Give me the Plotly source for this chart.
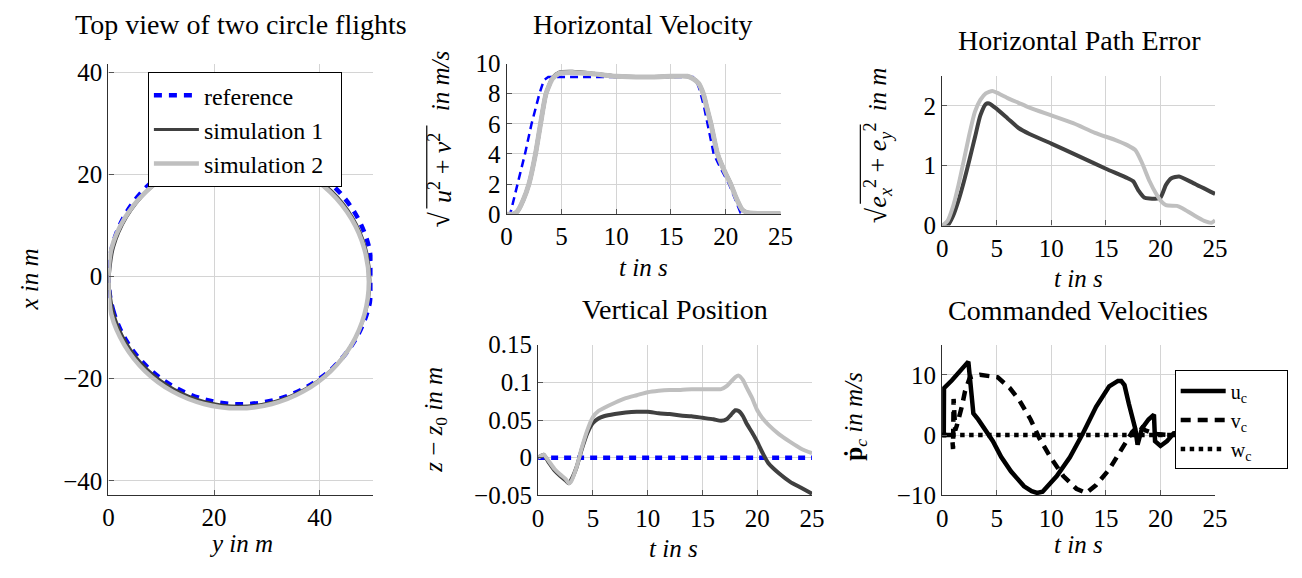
import plotly.graph_objects as go

W, H = 1302, 578
FONT = "Liberation Serif"
PAD = "\u00a0"

# ---------------- Top view of the two circle flights (y, x in m) ----------------
ref_y = [0.0, 0.85, 3.35, 7.32, 12.5, 18.53, 25.0, 31.47, 37.5, 42.68, 46.65, 49.15, 50.0,
         49.15, 46.65, 42.68, 37.5, 31.47, 25.0, 18.53, 12.5, 7.32, 3.35, 0.85, 0.0]
ref_x = [0.0, -6.47, -12.5, -17.68, -21.65, -24.15, -25.0, -24.15, -21.65, -17.68, -12.5, -6.47, 0.0,
         6.47, 12.5, 17.68, 21.65, 24.15, 25.0, 24.15, 21.65, 17.68, 12.5, 6.47, 0.0]
sim1_y = [0.0, 0.94, 3.41, 7.33, 12.45, 18.41, 24.8, 31.19, 37.15, 42.27, 46.19, 48.66, 49.5,
          48.66, 46.19, 42.27, 37.15, 31.19, 24.8, 18.41, 12.45, 7.33, 3.41, 0.94, 0.1]
sim1_x = [0.0, -7.09, -13.05, -18.17, -22.09, -24.56, -25.4, -24.56, -22.09, -18.17, -13.05, -7.09, -0.7,
          5.69, 11.65, 16.77, 20.69, 23.16, 24.0, 23.16, 20.69, 16.77, 11.65, 5.69, -0.7]
sim2_y = [0.0, 0.55, 3.02, 6.96, 12.1, 18.08, 24.5, 30.92, 36.9, 42.04, 45.98, 48.45, 49.3,
          48.45, 45.98, 42.04, 36.9, 30.92, 24.5, 18.08, 12.1, 6.96, 3.02, 0.55, 0.0]
sim2_x = [0.0, -7.42, -13.4, -18.54, -22.48, -24.95, -25.8, -24.95, -22.48, -18.54, -13.4, -7.42, -1.0,
          5.42, 11.4, 16.54, 20.48, 22.95, 23.8, 22.95, 20.48, 16.54, 11.4, 5.42, -1.0]

# ---------------- Horizontal velocity (m/s) ----------------
t_vref = [0, 0.33, 1.0, 1.68, 2.28, 3.0, 3.4, 3.8, 10, 17.0, 17.3, 17.6, 18.0, 18.35, 18.9,
          19.5, 20.3, 20.8, 21.35, 21.7, 25]
v_ref = [0, 0, 2.0, 4.0, 6.0, 8.0, 8.9, 9.1, 9.1, 9.1, 8.9, 8.3, 7.2, 6.0, 4.0,
         3.1, 2.0, 1.1, 0.1, 0.05, 0.05]
t_v = [0, 0.6, 1.0, 1.5, 2.04, 2.64, 3.1, 3.6, 4.2, 4.8, 6.0, 8.0, 10.0, 12.5, 15.0, 16.5, 17.0,
       17.5, 17.95, 18.3, 18.65, 19.25, 19.8, 20.45, 21.0, 21.5, 22.0, 25]
v_sim1 = [0, 0, 0.2, 0.9, 2.0, 4.0, 6.0, 8.0, 9.05, 9.4, 9.45, 9.32, 9.15, 9.1, 9.15, 9.15, 9.0,
          8.7, 8.0, 7.0, 6.0, 4.0, 3.0, 2.0, 1.0, 0.3, 0.1, 0.05]
v_sim2 = [0, 0, 0.2, 0.9, 2.0, 4.0, 6.0, 8.0, 9.0, 9.35, 9.4, 9.3, 9.15, 9.1, 9.15, 9.15, 9.0,
          8.7, 8.0, 7.0, 6.0, 4.0, 3.0, 2.0, 1.0, 0.3, 0.1, 0.05]

# ---------------- Horizontal path error (m) ----------------
t_e1 = [0, 0.5, 1, 1.5, 2, 2.5, 3, 3.5, 4, 4.3, 5, 6, 7, 8, 10, 12.5, 15, 17, 17.5, 18, 18.5,
        19.5, 20, 20.5, 21, 21.7, 23, 25]
e1 = [0, 0, 0.16, 0.42, 0.74, 1.1, 1.47, 1.84, 2.03, 2.04, 1.95, 1.79, 1.63, 1.53, 1.37, 1.16,
      0.95, 0.79, 0.74, 0.58, 0.47, 0.45, 0.47, 0.68, 0.79, 0.82, 0.71, 0.53]
t_e2 = [0, 0.5, 1, 1.5, 2, 2.5, 3, 3.5, 4, 4.6, 5, 6, 7, 8, 10, 12, 14, 16, 17, 17.7, 18.3, 19,
        19.6, 20, 20.5, 21.5, 22, 23, 24, 24.7, 25]
e2 = [0, 0.08, 0.32, 0.68, 1.1, 1.53, 1.9, 2.1, 2.21, 2.25, 2.22, 2.13, 2.05, 1.97, 1.84, 1.71,
      1.55, 1.42, 1.34, 1.26, 1.05, 0.74, 0.53, 0.42, 0.34, 0.33, 0.29, 0.18, 0.08, 0.05, 0.09]

# ---------------- Vertical position z - z0 (m) ----------------
t_z = [0, 0.5, 1, 1.5, 2, 2.5, 2.8, 3, 3.5, 4, 4.5, 5, 5.5, 6, 7, 8, 9, 10, 11, 12, 13, 14, 15,
       16, 16.7, 17.2, 17.6, 18, 18.3, 18.7, 19, 19.5, 20, 20.5, 21, 22, 23, 24, 25]
z_ref = [0.0] * len(t_z)
z1 = [0, 0.004, -0.007, -0.017, -0.024, -0.03, -0.034, -0.03, -0.013, 0.012, 0.033, 0.046,
      0.052, 0.055, 0.058, 0.06, 0.061, 0.061, 0.059, 0.058, 0.056, 0.055, 0.053, 0.051, 0.049,
      0.051, 0.057, 0.063, 0.062, 0.055, 0.046, 0.034, 0.021, 0.006, -0.007, -0.021, -0.032,
      -0.04, -0.048]
z2 = [0, 0.004, -0.005, -0.015, -0.022, -0.028, -0.034, -0.032, -0.013, 0.014, 0.037, 0.054,
      0.062, 0.066, 0.073, 0.079, 0.083, 0.087, 0.089, 0.09, 0.09, 0.091, 0.091, 0.091, 0.091,
      0.095, 0.101, 0.107, 0.109, 0.103, 0.094, 0.08, 0.063, 0.052, 0.044, 0.031, 0.021,
      0.012, 0.006]

# ---------------- Commanded velocities (m/s) ----------------
t_u = [0, 0.15, 0.17, 0.9, 2.4, 2.86, 3.3, 3.9, 4.65, 5.4, 6.3, 7.5, 8.2, 8.7, 9.2, 10.5, 11.7,
       12.9, 14.1, 15.3, 15.8, 16.1, 16.4, 16.7, 17.1, 17.4, 17.7, 17.9, 18.3, 18.9, 19.4, 19.5,
       20.0, 20.6, 21.2, 22.0, 25.0]
u_c = [0, 0, 7.8, 9.1, 12.2, 3.6, 2.6, 1.0, -1.0, -3.6, -6.0, -8.5, -9.3, -9.6, -9.4, -6.8,
       -3.7, 0.3, 4.7, 8.1, 8.7, 9.0, 9.0, 8.3, 5.2, 3.0, 1.0, -1.6, 1.1, 2.6, 3.4, -1.0, -1.8,
       -1.0, 0.3, 0.5, 0.2]
t_vc = [0, 0.9, 1.0, 1.05, 1.2, 1.35, 1.8, 2.1, 2.55, 3.46, 5.1, 6.2, 7.1, 8.1, 8.9, 9.9, 11.1,
        12.3, 13.2, 14.1, 15.3, 16.5, 17.4, 18.0, 18.6, 19.5, 21.0, 25.0]
v_c = [0, 0, -2.3, 6.0, 0.8, 1.6, 4.7, 7.3, 9.6, 10.0, 9.6, 7.8, 5.7, 2.6, -0.5, -3.6, -6.8,
       -8.9, -9.6, -8.3, -5.7, -2.1, 0.5, 1.6, 0.8, 0.2, 0.0, 0.0]
t_wc = [0, 25]
w_c = [0, 0]

# tick labels
top_xticks = [0, 20, 40]
top_yticks = [-40, -20, 0, 20, 40]
time_ticks = [0, 5, 10, 15, 20, 25]
vel_ticks = [0, 2, 4, 6, 8, 10]
err_ticks = [0, 1, 2]
z_ticks = [-0.05, 0, 0.05, 0.1, 0.15]
z_ticktext = ["\u22120.05", "0", "0.05", "0.1", "0.15"]
cmd_ticks = [-10, 0, 10]

BLUE = "#0000ff"
DARK = "#404040"
LIGHT = "#bfbfbf"


def fx(p):
    return p / W


def fy(p):
    return 1 - p / H


fig = go.Figure()

# panel 1: top view
fig.add_trace(go.Scatter(x=ref_y, y=ref_x, mode="lines", name="reference", xaxis="x", yaxis="y",
                         line=dict(color=BLUE, width=4.5, dash="8px,7px", shape="spline"),
                         legend="legend"))
fig.add_trace(go.Scatter(x=sim1_y, y=sim1_x, mode="lines", name="simulation 1" + PAD * 2,
                         xaxis="x", yaxis="y",
                         line=dict(color=DARK, width=3, shape="spline"), legend="legend"))
fig.add_trace(go.Scatter(x=sim2_y, y=sim2_x, mode="lines", name="simulation 2" + PAD * 2,
                         xaxis="x", yaxis="y",
                         line=dict(color=LIGHT, width=4.5, shape="spline"), legend="legend"))

# panel 2: horizontal velocity
fig.add_trace(go.Scatter(x=t_vref, y=v_ref, mode="lines", xaxis="x2", yaxis="y2", showlegend=False,
                         line=dict(color=BLUE, width=2.5, dash="8px,5px")))
fig.add_trace(go.Scatter(x=t_v, y=v_sim1, mode="lines", xaxis="x2", yaxis="y2", showlegend=False,
                         line=dict(color=DARK, width=4, shape="spline", smoothing=0.6)))
fig.add_trace(go.Scatter(x=t_v, y=v_sim2, mode="lines", xaxis="x2", yaxis="y2", showlegend=False,
                         line=dict(color=LIGHT, width=5, shape="spline", smoothing=0.6)))

# panel 3: horizontal path error
fig.add_trace(go.Scatter(x=t_e1, y=e1, mode="lines", xaxis="x3", yaxis="y3", showlegend=False,
                         line=dict(color=DARK, width=4, shape="spline", smoothing=0.6)))
fig.add_trace(go.Scatter(x=t_e2, y=e2, mode="lines", xaxis="x3", yaxis="y3", showlegend=False,
                         line=dict(color=LIGHT, width=4, shape="spline", smoothing=0.6)))

# panel 4: vertical position
fig.add_trace(go.Scatter(x=t_z, y=z_ref, mode="lines", xaxis="x4", yaxis="y4", showlegend=False,
                         line=dict(color=BLUE, width=4.5, dash="7px,6px")))
fig.add_trace(go.Scatter(x=t_z, y=z1, mode="lines", xaxis="x4", yaxis="y4", showlegend=False,
                         line=dict(color=DARK, width=4, shape="spline", smoothing=0.6)))
fig.add_trace(go.Scatter(x=t_z, y=z2, mode="lines", xaxis="x4", yaxis="y4", showlegend=False,
                         line=dict(color=LIGHT, width=4, shape="spline", smoothing=0.6)))

# panel 5: commanded velocities
fig.add_trace(go.Scatter(x=t_u, y=u_c, mode="lines", name="u<sub>c</sub>" + PAD * 6,
                         xaxis="x5", yaxis="y5",
                         line=dict(color="black", width=4.5), legend="legend2"))
fig.add_trace(go.Scatter(x=t_vc, y=v_c, mode="lines", name="v<sub>c</sub>" + PAD * 6,
                         xaxis="x5", yaxis="y5",
                         line=dict(color="black", width=4.5, dash="10px,7px"), legend="legend2"))
fig.add_trace(go.Scatter(x=t_wc, y=w_c, mode="lines", name="w<sub>c</sub>" + PAD * 6,
                         xaxis="x5", yaxis="y5",
                         line=dict(color="black", width=4.5, dash="4.5px,4.5px"), legend="legend2"))

tickfont = dict(family=FONT, size=25, color="black")
common = dict(showline=True, linecolor="#303030", linewidth=1.4, mirror=False,
              showgrid=True, gridcolor="#d4d4d4", gridwidth=1, zeroline=False,
              ticks="inside", ticklen=5, tickcolor="#555555", tickwidth=1, tickfont=tickfont,
              fixedrange=True)


def xax(l, r, rng, ticks, anchor, **kw):
    return dict(common, domain=[fx(l), fx(r)], range=rng, tickmode="array", tickvals=ticks,
                anchor=anchor, **kw)


def yax(t, b, rng, ticks, anchor, **kw):
    return dict(common, domain=[fy(b), fy(t)], range=rng, tickmode="array", tickvals=ticks,
                anchor=anchor, **kw)


layout = dict(
    width=W, height=H, margin=dict(l=0, r=0, t=0, b=0),
    paper_bgcolor="white", plot_bgcolor="white",
    font=dict(family=FONT, size=25, color="black"),
    xaxis=xax(104, 372, [0, 50], top_xticks, "y"),
    yaxis=yax(53.4, 505.7, [-42.8, 41.7], top_yticks, "x"),
    xaxis2=xax(508, 786, [0, 25], time_ticks, "y2"),
    yaxis2=yax(53, 211, [0, 10], vel_ticks, "x2"),
    xaxis3=xax(950, 1227, [0, 25], time_ticks, "y3"),
    yaxis3=yax(66, 223, [0, 2.5], err_ticks, "x3"),
    xaxis4=xax(540, 818, [0, 25], time_ticks, "y4"),
    yaxis4=yax(348, 506, [-0.05, 0.15], z_ticks, "x4", ticktext=z_ticktext),
    xaxis5=xax(950, 1227, [0, 25], time_ticks, "y5"),
    yaxis5=yax(348, 506, [-10, 15], cmd_ticks, "x5"),
    legend=dict(x=fx(144), y=fy(62), xanchor="left", yanchor="top", bgcolor="white",
                bordercolor="black", borderwidth=1, font=dict(family=FONT, size=24),
                tracegroupgap=0, itemwidth=45),
    legend2=dict(x=fx(1186), y=fy(375), xanchor="left", yanchor="top", bgcolor="white",
                 bordercolor="black", borderwidth=1, font=dict(family=FONT, size=20),
                 tracegroupgap=0, itemwidth=45),
)
fig.update_layout(**layout)

titles = [
    ("Top view of two circle flights", 238, 12),
    ("Horizontal Velocity", 646, 12),
    ("Horizontal Path Error", 1089, 29),
    ("Vertical Position", 679, 311),
    ("Commanded Velocities", 1088, 312),
]
for text, x, y in titles:
    fig.add_annotation(text=text, x=fx(x), y=fy(y), xref="paper", yref="paper",
                       showarrow=False, xanchor="center", yanchor="middle",
                       font=dict(family=FONT, size=28, color="black"))

# axis titles; the square-root labels are assembled from a radical sign, the radicand,
# a vinculum stroke and the unit text
axis_titles = [
    ("<i>y in m</i>", 238, 557, 0, 25),
    ("<i>x in m</i>", 24, 280, -90, 25),
    ("<i>t in s</i>", 647, 267, 0, 25),
    ("\u221a", 440, 217, -90, 28),
    ("<i>u</i><sup>2</sup> + <i>v</i><sup>2</sup>", 441, 163, -90, 26),
    ("<i>in m/s</i>", 441, 72, -90, 25),
    ("<i>t in s</i>", 1088, 278, 0, 25),
    ("\u221a", 883, 212, -90, 28),
    ("<i>e</i><sub><i>x</i></sub><sup>2</sup> + <i>e</i><sub><i>y</i></sub><sup>2</sup>", 884, 160, -90, 26),
    ("<i>in m</i>", 884, 80, -90, 25),
    ("<i>t in s</i>", 677, 562, 0, 25),
    ("<i>z</i> \u2212 <i>z</i><sub>0</sub> <i>in m</i>", 435, 427, -90, 25),
    ("<i>t in s</i>", 1088, 558, 0, 25),
    ("<b>\u1e57</b><sub><i>c</i></sub> <i>in m/s</i>", 862, 423, -90, 25),
]
for text, x, y, ang, size in axis_titles:
    fig.add_annotation(text=text, x=fx(x), y=fy(y), xref="paper", yref="paper",
                       showarrow=False, xanchor="center", yanchor="middle", textangle=ang,
                       font=dict(family=FONT, size=size, color="black"))

# vinculum strokes over the radicands
for xv, y_lo, y_hi in [(427, 205, 118), (867, 200, 117)]:
    fig.add_shape(type="line", xref="paper", yref="paper",
                  x0=fx(xv), x1=fx(xv), y0=fy(y_lo), y1=fy(y_hi),
                  line=dict(color="black", width=1.2))

fig.write_html("out.html")
